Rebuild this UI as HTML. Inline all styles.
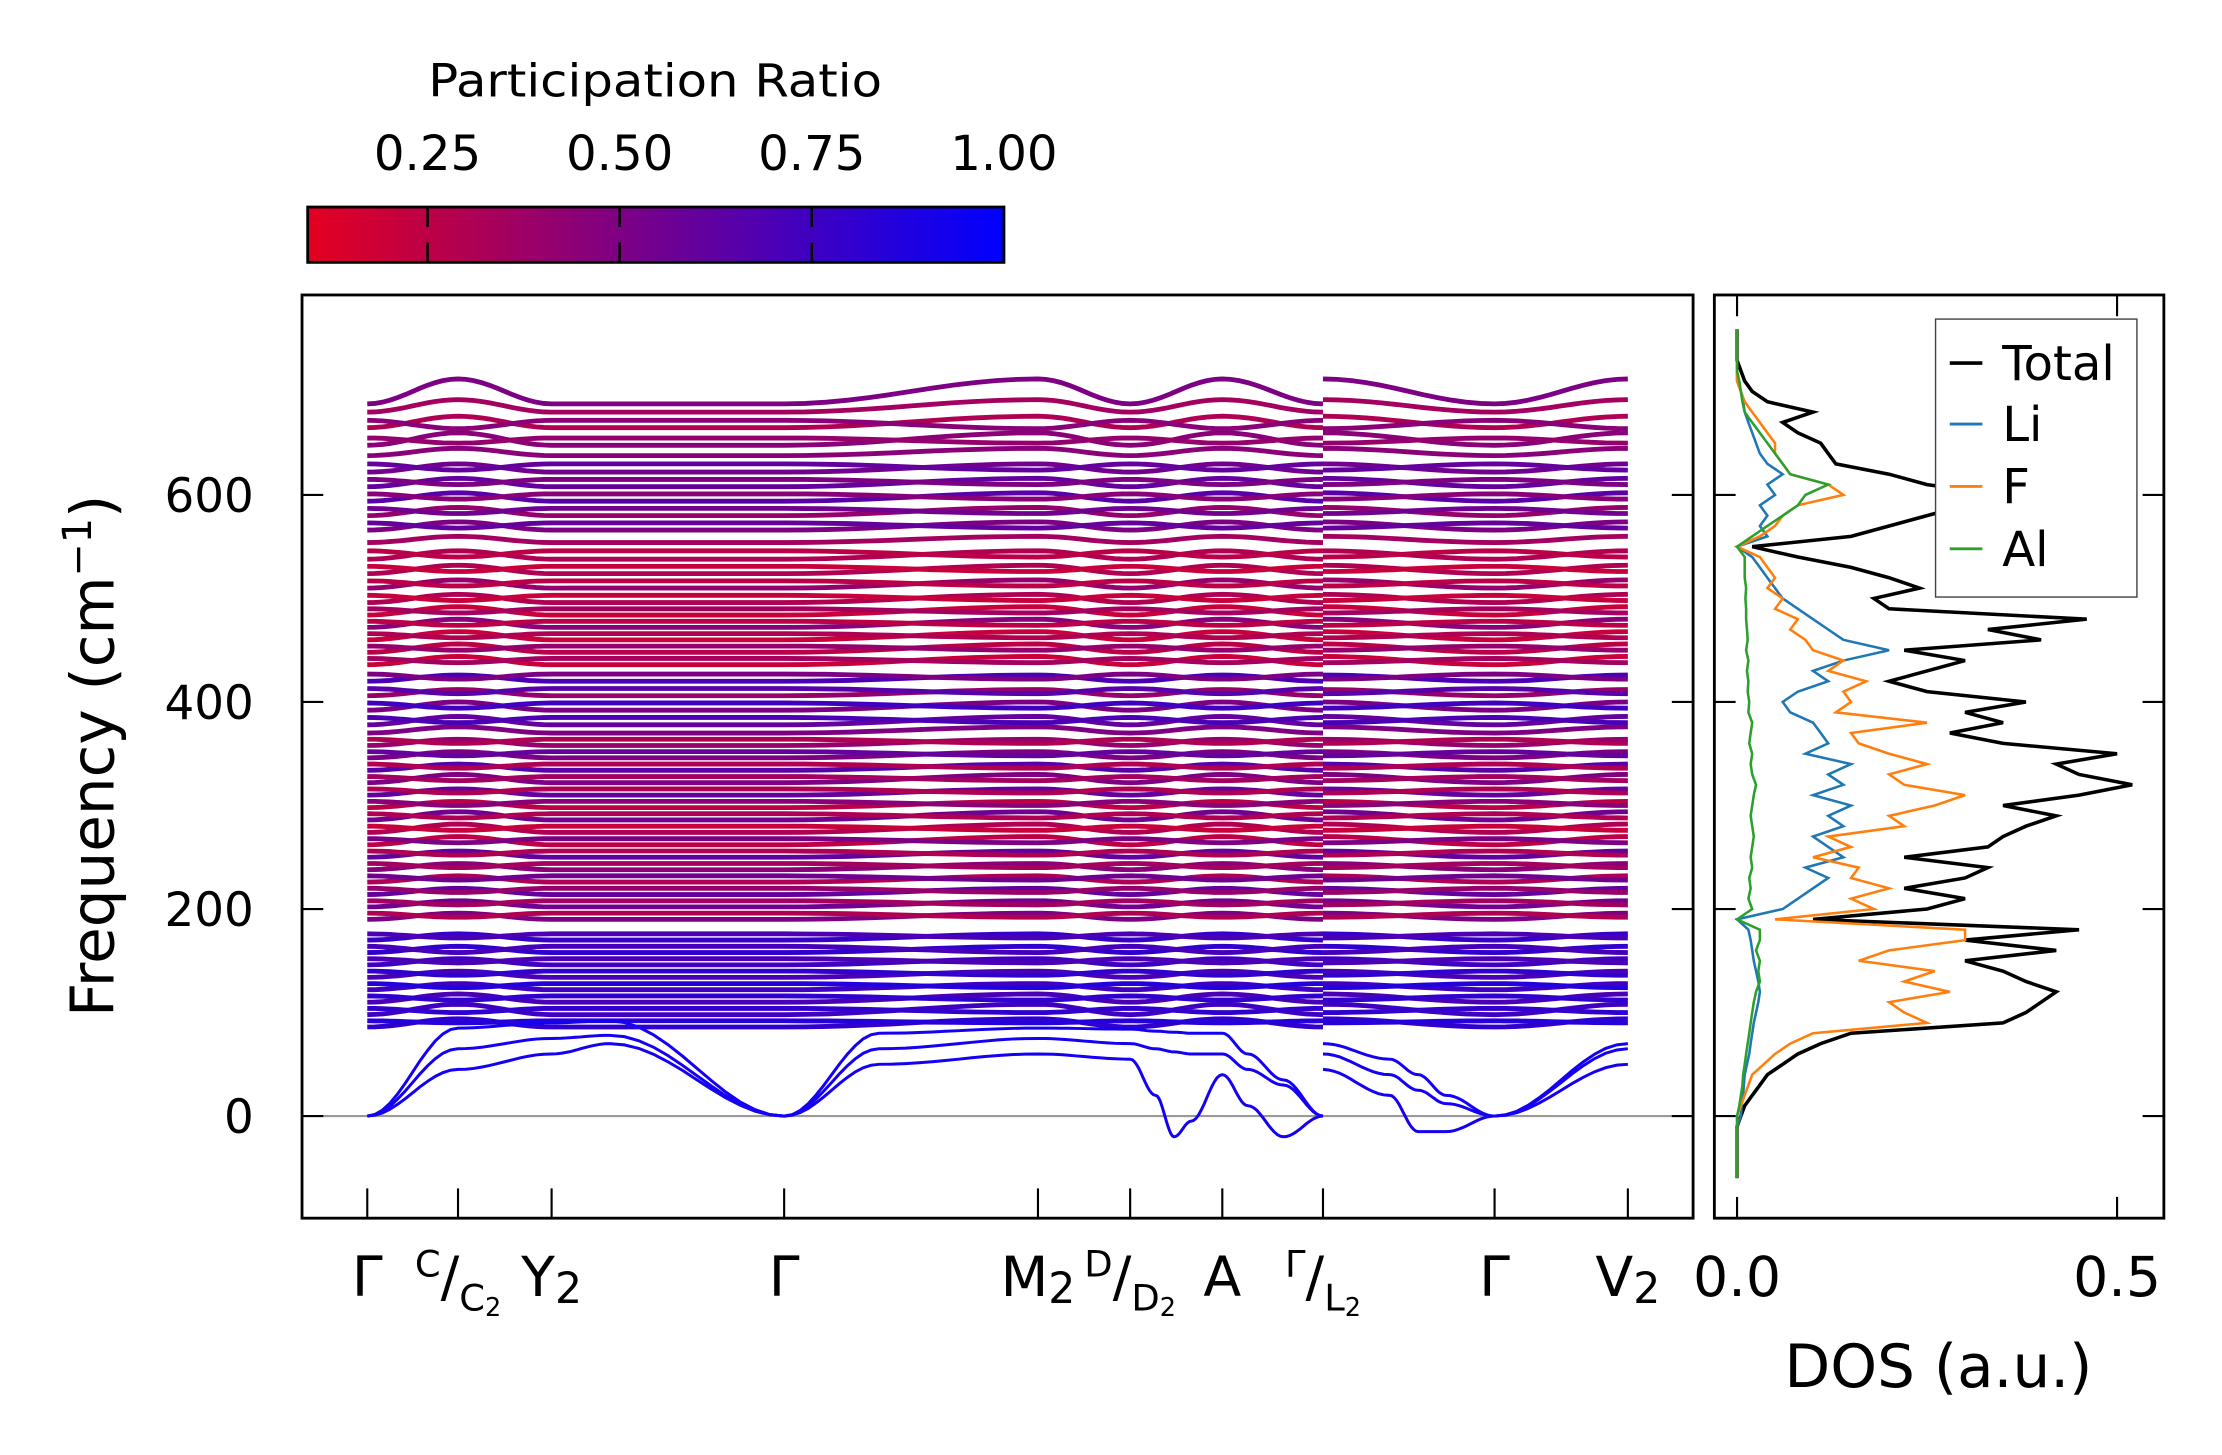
<!DOCTYPE html>
<html><head><meta charset="utf-8"><title>Phonon bands and DOS</title>
<style>
html,body{margin:0;padding:0;background:#fff;}
svg{display:block;font-family:"DejaVu Sans","Liberation Sans",sans-serif;}
</style></head>
<body>
<svg id="fig" width="2222" height="1455" viewBox="0 0 1567 1026" preserveAspectRatio="none" xmlns="http://www.w3.org/2000/svg">
<defs>
<linearGradient id="cbgrad" x1="0" y1="0" x2="1" y2="0">
<stop offset="0" stop-color="rgb(228,0,32)"/>
<stop offset="1" stop-color="rgb(0,0,255)"/>
</linearGradient>
<clipPath id="mainclip"><rect x="213" y="208" width="981" height="651"/></clipPath>
<clipPath id="dosclip"><rect x="1209" y="208" width="317" height="651"/></clipPath>
</defs>
<rect x="0" y="0" width="1567" height="1026" fill="#fff"/>

<g>
<text x="462" y="68" font-size="32" text-anchor="middle" textLength="320" lengthAdjust="spacingAndGlyphs">Participation Ratio</text>
<rect x="217" y="146" width="491" height="39" fill="url(#cbgrad)" stroke="#000" stroke-width="2"/>
<g id="cbticks"></g>
</g>

<g>
<line x1="213" y1="787" x2="1194" y2="787" stroke="#999" stroke-width="1.5"/>
<g id="bands" clip-path="url(#mainclip)"></g>
<rect x="213" y="208" width="981" height="651" fill="none" stroke="#000" stroke-width="2"/>
<g id="mainticks"></g>
<text x="0" y="0" font-size="42" text-anchor="middle" transform="translate(80,533) rotate(-90)">Frequency (cm<tspan font-size="28" dy="-16">−1</tspan><tspan dy="16">)</tspan></text>
</g>

<g>
<g id="dos" clip-path="url(#dosclip)"></g>
<rect x="1209" y="208" width="317" height="651" fill="none" stroke="#000" stroke-width="2"/>
<g id="dosticks"></g>
<text x="1367" y="978" font-size="42" text-anchor="middle">DOS (a.u.)</text>
<g>
<rect x="1365" y="225" width="142" height="196" fill="#fff" stroke="#444" stroke-width="1"/>
<line x1="1375" y1="256" x2="1398" y2="256" stroke="#000" stroke-width="2.5"/>
<text x="1412" y="268" font-size="34">Total</text>
<line x1="1375" y1="299" x2="1398" y2="299" stroke="#1f77b4" stroke-width="2"/>
<text x="1412" y="311" font-size="34">Li</text>
<line x1="1375" y1="343" x2="1398" y2="343" stroke="#ff7f0e" stroke-width="2"/>
<text x="1412" y="355" font-size="34">F</text>
<line x1="1375" y1="387" x2="1398" y2="387" stroke="#2ca02c" stroke-width="2"/>
<text x="1412" y="399" font-size="34">Al</text>
</g>
</g>
</svg>

<script>
const kLabels = ["Γ","C/C2","Y2","Γ","M2","D/D2","A","Γ/L2","Γ","V2"];
const kDist = [0,64,130,294,473,538,603,674,795,889];
const yTicks = [0,200,400,600];
const cbTicks = [0.25,0.5,0.75,1.0];
const dosTicks = [0.0,0.5];

const optG = [86,92,98,104,110,116,122,128,134,140,146,152,158,164,170,176,
 190,196,202,208,214,220,226,232,238,244,250,256,
 262,268,274,280,286,292,298,304,310,316,322,328,334,340,346,352,358,364,370,
 378,385,392,399,406,413,420,427,
 436,442,448,454,460,466,472,478,484,490,496,503,510,517,524,531,538,546,554,
 566,573,580,587,594,601,608,615,622,630,638,
 648,655,665,672,680,688];
const optZ = [94,90,108,100,118,112,128,124,140,136,152,148,164,158,176,172,
 196,192,208,204,220,216,232,228,244,240,256,252,
 270,264,282,276,294,288,304,300,316,312,330,324,340,336,352,348,364,360,376,
 386,380,400,394,412,408,426,422,
 444,438,456,450,468,462,480,474,492,486,504,498,518,512,532,526,546,540,560,
 574,568,588,582,602,596,616,610,630,624,645,
 660,650,676,664,692,712];
const optPR = [0.8,0.85,0.75,0.8,0.7,0.8,0.75,0.85,0.7,0.8,0.75,0.7,0.8,0.72,0.78,0.7,
 0.5,0.3,0.55,0.35,0.6,0.4,0.3,0.55,0.45,0.35,0.6,0.3,
 0.25,0.5,0.3,0.2,0.55,0.3,0.25,0.45,0.6,0.3,0.5,0.35,0.65,0.3,0.5,0.6,0.4,0.3,0.5,
 0.6,0.7,0.5,0.75,0.4,0.65,0.7,0.5,
 0.2,0.35,0.25,0.4,0.2,0.3,0.45,0.25,0.2,0.35,0.3,0.2,0.4,0.25,0.3,0.2,0.3,0.25,0.35,
 0.5,0.6,0.4,0.55,0.65,0.45,0.6,0.5,0.55,0.6,0.45,
 0.45,0.4,0.3,0.45,0.35,0.5];

const acKL = [0,64,130,171,294,361,473,538,556,569,581,603,621,646,674];
const acKR = [674,721,741,761,795,889];
const ac1L = [0,45,60,70,0,50,60,55,20,-20,-5,40,10,-20,0];
const ac2L = [0,65,75,78,0,65,75,70,65,62,60,60,45,30,0];
const ac3L = [0,85,90,92,0,80,85,84,82,81,80,80,60,35,0];
const ac1R = [45,20,-15,-15,0,50];
const ac2R = [60,40,25,12,0,65];
const ac3R = [70,55,40,20,0,70];

const dosFreq = [-60,-50,-40,-30,-20,-10,0,10,20,30,40,50,60,70,80,90,100,110,120,130,140,150,160,170,180,190,200,210,220,230,240,250,260,270,280,290,300,310,320,330,340,350,360,370,380,390,400,410,420,430,440,450,460,470,480,490,500,510,520,530,540,550,560,570,580,590,600,610,620,630,640,650,660,670,680,690,700,710,720,730,740,750,760];
const dosTotal = [0,0,0,0,0,0,0.005,0.01,0.02,0.03,0.04,0.06,0.08,0.11,0.15,0.35,0.38,0.40,0.42,0.38,0.35,0.30,0.42,0.30,0.45,0.10,0.25,0.30,0.22,0.30,0.33,0.22,0.33,0.35,0.38,0.42,0.35,0.45,0.52,0.45,0.42,0.50,0.35,0.28,0.35,0.30,0.38,0.25,0.20,0.25,0.30,0.22,0.40,0.33,0.46,0.20,0.18,0.24,0.20,0.15,0.08,0.02,0.15,0.20,0.25,0.30,0.35,0.25,0.20,0.13,0.12,0.11,0.08,0.06,0.10,0.04,0.02,0.01,0.005,0,0,0,0];
const dosLi = [0,0,0,0,0,0,0.005,0.006,0.008,0.009,0.01,0.013,0.016,0.018,0.02,0.022,0.025,0.028,0.03,0.028,0.025,0.022,0.02,0.018,0.015,0.0,0.06,0.08,0.10,0.12,0.09,0.14,0.12,0.10,0.14,0.12,0.15,0.10,0.14,0.12,0.15,0.09,0.12,0.11,0.10,0.07,0.06,0.08,0.12,0.10,0.14,0.20,0.14,0.12,0.10,0.08,0.06,0.05,0.04,0.03,0.02,0.0,0.04,0.03,0.04,0.03,0.05,0.04,0.06,0.04,0.03,0.025,0.02,0.015,0.01,0.008,0.005,0,0,0,0,0,0];
const dosF = [0,0,0,0,0,0,0,0.005,0.01,0.015,0.02,0.035,0.05,0.07,0.10,0.25,0.22,0.20,0.28,0.22,0.26,0.16,0.20,0.30,0.30,0.05,0.18,0.15,0.20,0.15,0.16,0.10,0.15,0.12,0.22,0.20,0.26,0.30,0.22,0.20,0.25,0.20,0.16,0.15,0.25,0.13,0.15,0.14,0.17,0.12,0.14,0.10,0.09,0.07,0.08,0.05,0.06,0.04,0.05,0.04,0.03,0.0,0.03,0.05,0.06,0.08,0.14,0.12,0.07,0.06,0.05,0.05,0.04,0.03,0.02,0.01,0.005,0,0,0,0,0,0];
const dosAl = [0,0,0,0,0,0,0,0.003,0.005,0.007,0.008,0.01,0.012,0.014,0.016,0.018,0.02,0.022,0.025,0.03,0.028,0.03,0.025,0.03,0.03,0.0,0.02,0.015,0.018,0.016,0.02,0.018,0.02,0.022,0.02,0.018,0.02,0.022,0.025,0.02,0.018,0.02,0.016,0.018,0.02,0.015,0.016,0.014,0.015,0.013,0.015,0.012,0.014,0.013,0.012,0.012,0.011,0.012,0.01,0.01,0.01,0.0,0.02,0.04,0.06,0.08,0.09,0.12,0.07,0.06,0.05,0.04,0.03,0.02,0.01,0.007,0.005,0.003,0,0,0,0,0];

const NS = "http://www.w3.org/2000/svg";
function xm(d){ return 259 + d; }
function ym(f){ return 787 - f*0.73; }
function xd(v){ return 1225 + v*536; }
function xcb(p){ return 708 - (1.0 - p)*542; }
function prColor(p){
  const t = Math.max(0, Math.min(1, (p - 0.09)/0.91));
  const r = Math.round(228*(1-t)), b = Math.round(32 + (255-32)*t);
  return "rgb("+r+",0,"+b+")";
}
function mk(tag, attrs, parent){
  const el = document.createElementNS(NS, tag);
  for (const k in attrs) el.setAttribute(k, attrs[k]);
  parent.appendChild(el);
  return el;
}

const cbG = document.getElementById("cbticks");
cbTicks.forEach(function(p){
  const x = xcb(p);
  if (p < 1.0) {
    const t1 = mk("line", {x1:x, y1:146, x2:x, y2:160, stroke:"#000", "stroke-width":1.8}, cbG);
    
    
    const t2 = mk("line", {x1:x, y1:171, x2:x, y2:185, stroke:"#000", "stroke-width":1.8}, cbG);
    
    
  }
  const lb = mk("text", {x:x, y:120, "font-size":34, "text-anchor":"middle"}, cbG);
  lb.textContent = p.toFixed(2);
  
  
});

const mt = document.getElementById("mainticks");
kDist.forEach(function(d){
  const x = xm(d);
  const t = mk("line", {x1:x, y1:859, x2:x, y2:838, stroke:"#000", "stroke-width":1.5}, mt);
  
  
});
yTicks.forEach(function(f){
  const y = ym(f);
  const a = mk("line", {x1:213, y1:y, x2:228, y2:y, stroke:"#000", "stroke-width":1.5}, mt);
  
  
  const b = mk("line", {x1:1179, y1:y, x2:1194, y2:y, stroke:"#000", "stroke-width":1.5}, mt);
  
  
  const lb = mk("text", {x:179, y:y+12, "font-size":33, "text-anchor":"end"}, mt);
  lb.textContent = String(f);
  
  
});
function kLabel(i){
  const x = xm(kDist[i]);
  const lab = kLabels[i];
  const t = mk("text", {x:x, y:914, "font-size":39, "text-anchor":"middle"}, mt);
  
  
  if (lab.indexOf("/") >= 0) {
    const parts = lab.split("/");
    const s1 = mk("tspan", {"font-size":26, dy:-14}, t); s1.textContent = parts[0];
    const s2 = mk("tspan", {"font-size":39, dy:14}, t); s2.textContent = "/";
    const base = parts[1].replace("2","");
    const s3 = mk("tspan", {"font-size":26, dy:10}, t); s3.textContent = base;
    if (parts[1].indexOf("2") >= 0) { const s4 = mk("tspan", {"font-size":18, dy:4}, t); s4.textContent = "2"; }
  } else if (lab.length === 2 && lab[1] === "2") {
    const s1 = mk("tspan", {}, t); s1.textContent = lab[0];
    const s2 = mk("tspan", {"font-size":30, dy:5}, t); s2.textContent = "2";
  } else {
    t.textContent = lab;
  }
}
for (let i = 0; i < kLabels.length; i++) kLabel(i);

const bandsG = document.getElementById("bands");
function cosPath(ks, fs){
  let d = "M" + xm(ks[0]).toFixed(1) + "," + ym(fs[0]).toFixed(1);
  for (let i = 0; i < ks.length - 1; i++) {
    for (let s = 1; s <= 12; s++) {
      const u = s/12, w = (1 - Math.cos(Math.PI*u))/2;
      const k = ks[i] + (ks[i+1]-ks[i])*u;
      const f = fs[i] + (fs[i+1]-fs[i])*w;
      d += " L" + xm(k).toFixed(1) + "," + ym(f).toFixed(1);
    }
  }
  return d;
}
const leftK = [kDist[0],kDist[1],kDist[2],kDist[3],kDist[4],kDist[5],kDist[6],kDist[7]];
const rightK = [kDist[7],kDist[8],kDist[9]];
for (let b = 0; b < optG.length; b++) {
  const G = optG[b], Z = optZ[b];
  const col = prColor(optPR[b]);
  const pl = mk("path", {d:cosPath(leftK, [G,Z,G,G,Z,G,Z,G]), fill:"none", stroke:col, "stroke-width":3.4}, bandsG);
  
  
  const pr = mk("path", {d:cosPath(rightK, [Z,G,Z]), fill:"none", stroke:col, "stroke-width":3.4}, bandsG);
  
  
}
[[ac1L,ac1R],[ac2L,ac2R],[ac3L,ac3R]].forEach(function(pair){
  const a = mk("path", {d:cosPath(acKL, pair[0]), fill:"none", stroke:"rgb(20,0,245)", "stroke-width":2.1}, bandsG);
  
  
  const c = mk("path", {d:cosPath(acKR, pair[1]), fill:"none", stroke:"rgb(20,0,245)", "stroke-width":2.1}, bandsG);
  
  
});

const dosG = document.getElementById("dos");
function dosLine(vals, color, w, name){
  let pts = [];
  for (let i = 0; i < dosFreq.length; i++) pts.push(xd(vals[i]).toFixed(1) + "," + ym(dosFreq[i]).toFixed(1));
  const p = mk("polyline", {points:pts.join(" "), fill:"none", stroke:color, "stroke-width":w}, dosG);
  
  
}
dosLine(dosTotal, "#000", 2.5, "dos-total-line");
dosLine(dosLi, "#1f77b4", 1.8, "dos-li-line");
dosLine(dosF, "#ff7f0e", 1.8, "dos-f-line");
dosLine(dosAl, "#2ca02c", 1.8, "dos-al-line");

const dt = document.getElementById("dosticks");
yTicks.forEach(function(f){
  const y = ym(f);
  const a = mk("line", {x1:1209, y1:y, x2:1224, y2:y, stroke:"#000", "stroke-width":1.5}, dt);
  
  
  const b = mk("line", {x1:1511, y1:y, x2:1526, y2:y, stroke:"#000", "stroke-width":1.5}, dt);
  
  
});
dosTicks.forEach(function(v){
  const x = xd(v);
  const a = mk("line", {x1:x, y1:859, x2:x, y2:844, stroke:"#000", "stroke-width":1.5}, dt);
  
  
  const b = mk("line", {x1:x, y1:208, x2:x, y2:223, stroke:"#000", "stroke-width":1.5}, dt);
  
  
  const lb = mk("text", {x:x, y:914, "font-size":39, "text-anchor":"middle"}, dt);
  lb.textContent = v.toFixed(1);
  
  
});
</script>
</body></html>
